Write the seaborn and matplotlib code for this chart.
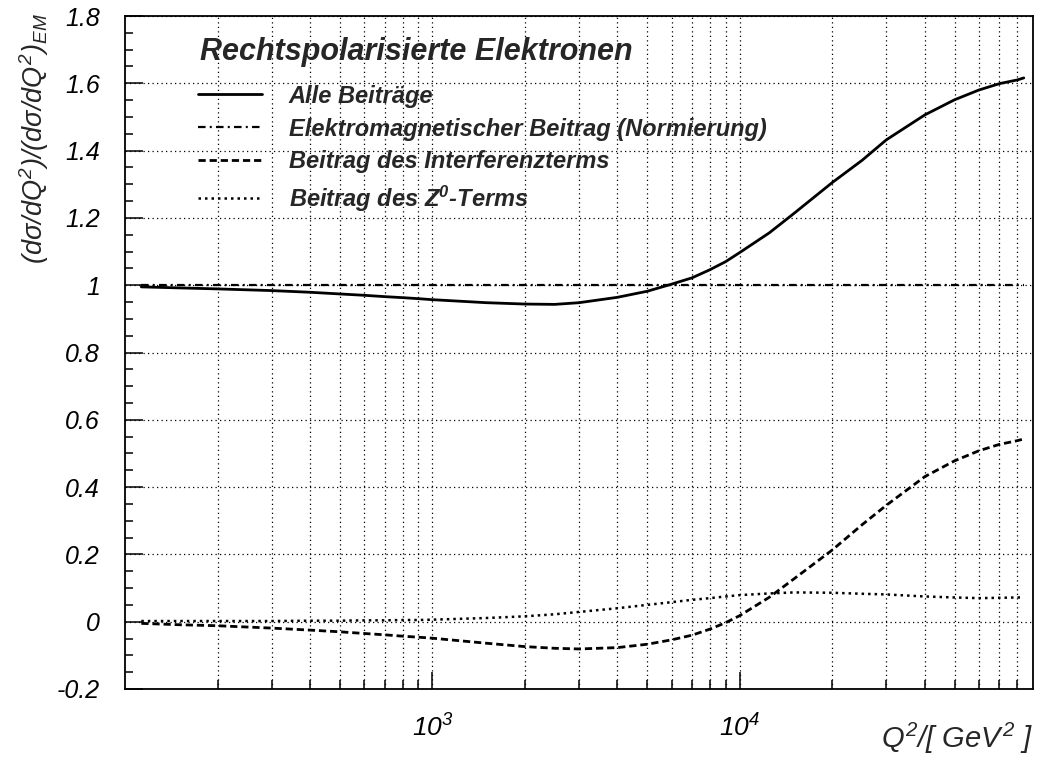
import matplotlib
matplotlib.use("Agg")
import matplotlib.pyplot as plt
from matplotlib.ticker import FixedLocator, MultipleLocator, FuncFormatter, NullFormatter
import pandas as pd
import seaborn as sns

# Q^2 grid in GeV^2
q2 = [113, 150, 200, 300, 400, 500, 600, 700, 800, 900, 1000, 1500, 2000,
      2500, 3000, 4000, 5000, 6000, 7000, 8000, 9000, 10000, 12500, 15000,
      20000, 25000, 30000, 40000, 50000, 60000, 70000, 80000, 84000]

# ratio to the pure electromagnetic cross section
total = [0.995, 0.992, 0.989, 0.984, 0.979, 0.974, 0.970, 0.966, 0.963, 0.960,
         0.957, 0.948, 0.944, 0.943, 0.948, 0.964, 0.982, 1.003, 1.022, 1.046,
         1.070, 1.097, 1.156, 1.213, 1.305, 1.371, 1.432, 1.506, 1.551, 1.580,
         1.599, 1.610, 1.616]
interference = [-0.005, -0.009, -0.012, -0.019, -0.025, -0.030, -0.035, -0.039,
                -0.043, -0.046, -0.049, -0.064, -0.074, -0.079, -0.081, -0.077,
                -0.067, -0.054, -0.040, -0.022, -0.003, 0.018, 0.073, 0.127,
                0.213, 0.288, 0.346, 0.431, 0.478, 0.508, 0.527, 0.538, 0.543]
z0_term = [0.002, 0.002, 0.002, 0.002, 0.003, 0.003, 0.004, 0.004, 0.005, 0.005,
           0.006, 0.011, 0.016, 0.022, 0.029, 0.040, 0.050, 0.058, 0.065, 0.070,
           0.075, 0.079, 0.084, 0.087, 0.086, 0.083, 0.081, 0.075, 0.072, 0.070,
           0.071, 0.072, 0.072]
em_q2 = [113, 84000]
em_norm = [1.0, 1.0]

labels = ["Alle Beiträge",
          "Elektromagnetischer Beitrag (Normierung)",
          "Beitrag des Interferenzterms",
          r"Beitrag des $\mathbf{Z^{0}}$-Terms"]
legend_title = "Rechtspolarisierte Elektronen"
x_ticks = [1e3, 1e4]
x_ticklabels = [r"$10^{3}$", r"$10^{4}$"]

sns.set_style("ticks")
plt.rcParams["font.family"] = ["Liberation Sans", "DejaVu Sans"]
plt.rcParams["font.style"] = "italic"
plt.rcParams["mathtext.fontset"] = "custom"
plt.rcParams["mathtext.rm"] = "Liberation Sans:italic"
plt.rcParams["mathtext.it"] = "Liberation Sans:italic"
plt.rcParams["mathtext.bf"] = "Liberation Sans:italic:bold"
plt.rcParams["mathtext.sf"] = "Liberation Sans:italic"

fig = plt.figure(figsize=(10.39, 7.61), dpi=100)
ax = fig.add_axes([125 / 1039, 1 - 689 / 761, 908 / 1039, 673 / 761])

df = pd.DataFrame({"q2": q2, "total": total, "interf": interference, "z0": z0_term})
em_df = pd.DataFrame({"q2": em_q2, "em": em_norm})

sns.lineplot(data=df, x="q2", y="total", ax=ax, color="black", lw=2.0,
             linestyle="-", label=labels[0], zorder=3)
sns.lineplot(data=em_df, x="q2", y="em", ax=ax, color="black", lw=1.6,
             linestyle=(0, (3.4, 1.9, 0.9, 1.9)), label=labels[1], zorder=3)
sns.lineplot(data=df, x="q2", y="interf", ax=ax, color="black", lw=2.0,
             linestyle=(0, (2.6, 1.4)), label=labels[2], zorder=3)
sns.lineplot(data=df, x="q2", y="z0", ax=ax, color="black", lw=1.8,
             linestyle=(0, (1, 1.6)), label=labels[3], zorder=3)

ax.set_xscale("log")
ax.set_xlim(100, 9.0e4)
ax.set_ylim(-0.2, 1.8)

ax.xaxis.set_major_locator(FixedLocator(x_ticks))
ax.set_xticklabels(x_ticklabels)
ax.xaxis.set_minor_locator(FixedLocator(
    [m * 10 ** e for e in (2, 3, 4) for m in range(2, 10) if m * 10 ** e < 9.0e4]))
ax.xaxis.set_minor_formatter(NullFormatter())
ax.yaxis.set_major_locator(MultipleLocator(0.2))
ax.yaxis.set_minor_locator(MultipleLocator(0.05))
ax.yaxis.set_major_formatter(FuncFormatter(
    lambda v, p: f"{v:.1f}".rstrip("0").rstrip(".") if abs(v) > 1e-9 else "0"))

ax.grid(True, which="major", axis="y", color="black", lw=0.9, linestyle=(0, (1, 2.6)))
ax.grid(True, which="both", axis="x", color="black", lw=0.9, linestyle=(0, (1, 2.6)))
ax.set_axisbelow(True)

ax.tick_params(axis="both", which="both", direction="in", top=False, right=False,
               colors="black", width=1.1)
ax.tick_params(axis="y", which="major", length=13, pad=18, labelsize=18)
ax.tick_params(axis="y", which="minor", length=6)
ax.tick_params(axis="x", which="major", length=12, pad=18, labelsize=19)
ax.tick_params(axis="x", which="minor", length=6.5)
for s in ax.spines.values():
    s.set_visible(True)
    s.set_color("black")
    s.set_linewidth(1.3)

ax.set_ylabel(r"$(d\sigma/dQ^{2})/(d\sigma/dQ^{2})_{EM}$", fontsize=19.5, loc="top")
ax.yaxis.set_label_coords(-0.082, 1.004)
ax.set_xlabel(r"$Q^{2}/[\ GeV^{2}\ ]$", fontsize=21, loc="right")
ax.xaxis.set_label_coords(1.0, -0.047)

# legend heading and entries
ax.text(0.0826, 0.9346, legend_title, transform=ax.transAxes, ha="left",
        va="baseline", fontsize=22, fontweight="bold", fontstyle="italic")
leg = ax.legend(loc="upper left", bbox_to_anchor=(0.0804, 0.898), frameon=False,
                prop={"weight": "bold", "style": "italic", "size": 17},
                handlelength=2.7, handletextpad=1.15, labelspacing=0.42,
                borderpad=0, borderaxespad=0)
for h in leg.get_lines():
    h.set_color("black")

fig.savefig("out.png", dpi=100)
